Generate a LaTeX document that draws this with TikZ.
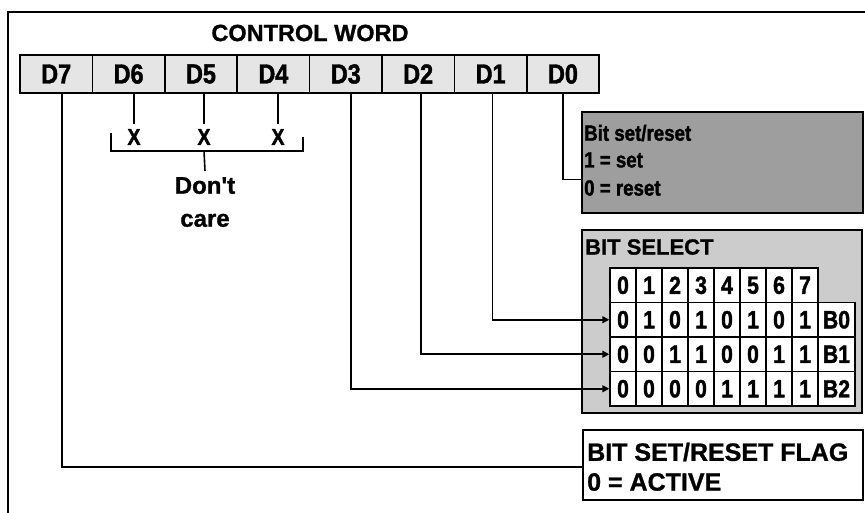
\documentclass[tikz,border=0pt]{standalone}
\usepackage{fontspec}
\setmainfont{Liberation Sans}
\newfontfamily\condensed{Liberation Sans}[FakeStretch=0.85, FakeBold=1.5]
\newfontfamily\heavy{Liberation Sans}[FakeBold=1]
\usetikzlibrary{arrows.meta}

\tikzset{
  wire/.style={line width=1.6pt},
  arrowwire/.style={wire, -{Triangle[length=7pt,width=7pt]}},
  dbox/.style={draw, line width=1.5pt, fill=black!10, minimum width=72.4pt,
               minimum height=38pt, inner sep=0pt,
               font=\condensed\bfseries\fontsize{27.5}{30}\selectfont},
  panel/.style={draw, line width=1.6pt, inner sep=0pt},
  cell/.style={draw, line width=1.5pt, fill=white, minimum width=26pt,
               minimum height=34.5pt, inner sep=0pt,
               font=\condensed\bfseries\fontsize{25}{28}\selectfont},
  bcell/.style={cell, minimum width=37pt},
  paneltext/.style={anchor=west, inner sep=0pt},
}

\begin{document}
\begin{tikzpicture}[x=1pt, y=-1pt]
  \useasboundingbox (0,0) rectangle (865,513);

  % outer frame (open to the right and bottom)
  \draw[wire] (8,520) -- (8,12) -- (870,12);

  % title and the eight bits of the control word
  \node[font=\heavy\bfseries\fontsize{23.5}{28}\selectfont] (title) at (310,33) {CONTROL WORD};
  \foreach \lab [count=\i from 0] in {7,6,5,4,3,2,1,0}
    \node[dbox] (d\lab) at ({56.2+72.4*\i},74) {D\lab};

  % don't-care bits D6..D4
  \foreach \lab/\xx in {6/134, 5/204, 4/278}
    \node[inner sep=5pt, font=\condensed\bfseries\fontsize{23}{26}\selectfont]
      (x\lab) at (\xx,137) {X};
  \coordinate (brl) at (111,133);
  \coordinate (brr) at (303,137);
  \coordinate (brm) at (204,151);
  \node[anchor=north, align=center, inner sep=6pt,
        font=\heavy\bfseries\fontsize{24}{33}\selectfont] (dc) at (205,171) {Don't\\care};

  % bit set/reset panel
  \node[panel, fill=black!38, minimum width=281pt, minimum height=101pt] (bsr) at (722.5,162.5) {};
  \begin{scope}[font=\condensed\bfseries\fontsize{22}{24}\selectfont]
    \node[paneltext] (bsr1) at (584,133) {Bit set/reset};
    \node[paneltext] (bsr2) at (584,160) {1 = set};
    \node[paneltext] (bsr3) at (584,188) {0 = reset};
  \end{scope}

  % bit select panel with its table
  \node[panel, fill=black!20, minimum width=280pt, minimum height=183pt] (bsel) at (722,321.5) {};
  \node[paneltext, font=\heavy\bfseries\fontsize{22}{26}\selectfont] (bseltitle) at (585,247) {BIT SELECT};
  \foreach \j in {0,...,7}
    \node[cell] (h\j) at ({623+26*\j},285.25) {\j};
  \foreach \r/\bits/\yy in {0/{0,1,0,1,0,1,0,1}/319.75,
                             1/{0,0,1,1,0,0,1,1}/354.25,
                             2/{0,0,0,0,1,1,1,1}/388.75} {
    \foreach \b [count=\j from 0] in \bits
      \node[cell] (c\r-\j) at ({623+26*\j},\yy) {\b};
    \node[bcell] (b\r) at (836.5,\yy) {B\r};
  }

  % set/reset flag panel
  \node[panel, fill=white, minimum width=280pt, minimum height=70pt] (flag) at (723,465) {};
  \begin{scope}[font=\heavy\bfseries\fontsize{25}{28}\selectfont]
    \node[paneltext] (flag1) at (587,452) {BIT SET/RESET FLAG};
    \node[paneltext] (flag2) at (587,482) {0 = ACTIVE};
  \end{scope}

  % connectors
  \foreach \lab in {6,5,4}
    \draw[wire] (d\lab.south -| x\lab.north) -- (x\lab.north);
  \draw[wire] (brl) |- (brm) -| (brr);
  \draw[wire] (brm) -- (dc.north);
  \draw[wire] (d0.south) |- ([yshift=-17pt]bsr.west);
  \draw[arrowwire] ([xshift=2pt]d1.south) |- (c0-0.west);
  \draw[arrowwire] ([xshift=3pt]d2.south) |- (c1-0.west);
  \draw[arrowwire] ([xshift=5pt]d3.south) |- (c2-0.west);
  \draw[wire] ([xshift=6pt]d7.south) |- ([yshift=-2pt]flag.west);
\end{tikzpicture}
\end{document}
